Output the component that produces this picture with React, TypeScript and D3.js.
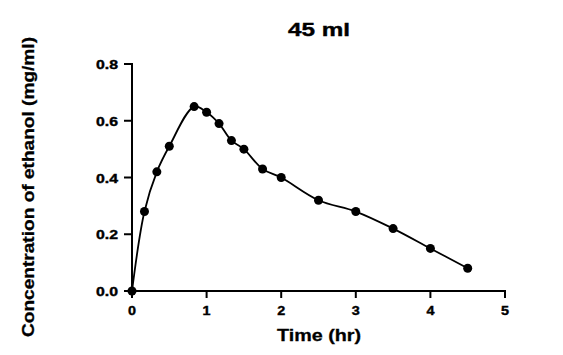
import React from "react";
import * as d3 from "d3";

const timeHr = [0, 0.167, 0.333, 0.5, 0.833, 1, 1.167, 1.333, 1.5, 1.75, 2, 2.5, 3, 3.5, 4, 4.5];
const concentration = [0, 0.28, 0.42, 0.51, 0.65, 0.63, 0.59, 0.53, 0.5, 0.43, 0.4, 0.32, 0.28, 0.22, 0.15, 0.08];
const xTicks = [0, 1, 2, 3, 4, 5];
const yTicks = [0, 0.2, 0.4, 0.6, 0.8];
const title = "45 ml";
const xLabel = "Time (hr)";
const yLabel = "Concentration of ethanol (mg/ml)";

const W = 563;
const H = 355;
const FONT = "'Liberation Sans', Arial, Helvetica, sans-serif";

export default function App() {
  const x = d3.scaleLinear().domain([0, 5]).range([132, 505]);
  const y = d3.scaleLinear().domain([0, 0.8]).range([291, 64]);
  const pts: [number, number][] = timeHr.map((t, i) => [t, concentration[i]]);
  const line = d3
    .line<[number, number]>()
    .x((d) => x(d[0]))
    .y((d) => y(d[1]))
    .curve(d3.curveCatmullRom.alpha(0.5));

  return (
    <svg
      width={W}
      height={H}
      style={{ position: "absolute", left: 0, top: 0, background: "#fff" }}
      fontFamily={FONT}
      fontWeight="bold"
    >
      <rect width={W} height={H} fill="#fff" />
      {/* title */}
      <text x={319} y={36} fontSize={19} textAnchor="middle" textLength={62} lengthAdjust="spacingAndGlyphs" stroke="#000" strokeWidth={0.4}>
        {title}
      </text>
      {/* y axis */}
      <line x1={x(0)} x2={x(0)} y1={y(0.8) - 1} y2={y(0) + 1} stroke="#000" strokeWidth={2} />
      {yTicks.map((t) => (
        <g key={"y" + t}>
          <line x1={x(0) - 8} x2={x(0)} y1={y(t)} y2={y(t)} stroke="#000" strokeWidth={2} />
          <text
            x={118}
            y={y(t) + 5}
            fontSize={13}
            textAnchor="end"
            textLength={22}
            lengthAdjust="spacingAndGlyphs"
            stroke="#000"
            strokeWidth={0.4}
          >
            {t.toFixed(1)}
          </text>
        </g>
      ))}
      {/* x axis */}
      <line x1={x(0) - 1} x2={x(5) + 1} y1={y(0)} y2={y(0)} stroke="#000" strokeWidth={2} />
      {xTicks.map((t) => (
        <g key={"x" + t}>
          <line x1={x(t)} x2={x(t)} y1={y(0)} y2={y(0) + 7} stroke="#000" strokeWidth={2} />
          <text
            x={x(t)}
            y={315}
            fontSize={13}
            textAnchor="middle"
            textLength={8}
            lengthAdjust="spacingAndGlyphs"
            stroke="#000"
            strokeWidth={0.4}
          >
            {String(t)}
          </text>
        </g>
      ))}
      <text x={319} y={341} fontSize={17} textAnchor="middle" textLength={84} lengthAdjust="spacingAndGlyphs" stroke="#000" strokeWidth={0.3}>
        {xLabel}
      </text>
      <text
        transform={`translate(34,187) rotate(-90)`}
        fontSize={17}
        textAnchor="middle"
        textLength={300}
        lengthAdjust="spacingAndGlyphs"
        stroke="#000"
        strokeWidth={0.3}
      >
        {yLabel}
      </text>
      {/* data */}
      <path d={line(pts) || ""} fill="none" stroke="#000" strokeWidth={1.8} />
      {pts.map((d, i) => (
        <circle key={i} cx={x(d[0])} cy={y(d[1])} r={4.5} fill="#000" />
      ))}
    </svg>
  );
}
